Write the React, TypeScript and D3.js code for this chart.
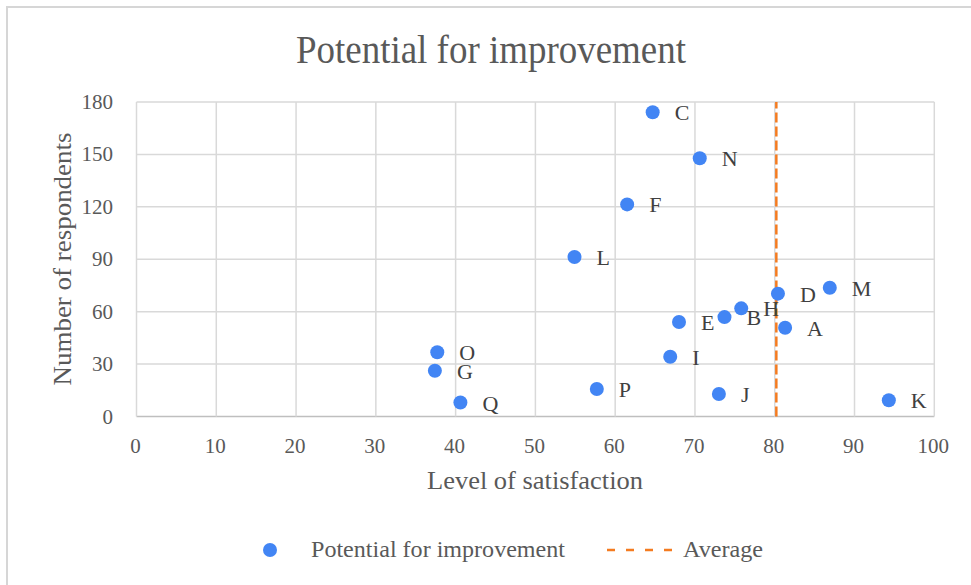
import React from "react";
import * as d3 from "d3";

const labels = ["A", "B", "C", "D", "E", "F", "G", "H", "I", "J", "K", "L", "M", "N", "O", "P", "Q"];
const satisfaction = [81.3, 73.7, 64.7, 80.4, 68.0, 61.5, 37.4, 75.8, 66.9, 73.0, 94.3, 54.9, 86.9, 70.6, 37.7, 57.7, 40.6];
const respondents = [50.8, 56.9, 174.1, 70.3, 54.1, 121.4, 26.2, 61.9, 34.2, 12.9, 9.3, 91.3, 73.7, 147.8, 36.8, 15.7, 8.0];
const averageSatisfaction = [80.2];
const xTicks = [0, 10, 20, 30, 40, 50, 60, 70, 80, 90, 100];
const yTicks = [0, 30, 60, 90, 120, 150, 180];

const W = 971;
const H = 585;
const FONT = "'Liberation Serif', 'Times New Roman', serif";
const TEXT = "#595959";
const BLUE = "#4285F4";
const ORANGE = "#F47B20";
const GRID = "#d9d9d9";

export default function App() {
  const x = d3.scaleLinear().domain([0, 100]).range([136.5, 934.3]);
  const y = d3.scaleLinear().domain([0, 180]).range([416.5, 102]);
  const pts = labels.map((l, i) => ({ l, sx: satisfaction[i], ry: respondents[i] }));
  const [x0, x1] = x.range();
  const [y0, y1] = y.range();
  return (
    <svg
      width={W}
      height={H}
      viewBox={`0 0 ${W} ${H}`}
      style={{ position: "absolute", left: 0, top: 0, display: "block", background: "#fff" }}
      fontFamily={FONT}
    >
      <rect x={0} y={0} width={W} height={H} fill="#fff" />
      <rect x={7} y={7} width={W + 20} height={H + 20} fill="none" stroke="#d6d6d6" strokeWidth={2} />
      <text x={491} y={63} textAnchor="middle" fontSize={40} fill={TEXT} textLength={390} lengthAdjust="spacingAndGlyphs">
        Potential for improvement
      </text>
      {/* grid */}
      {yTicks.map((t) => (
        <line key={"gy" + t} x1={x0} x2={x1} y1={y(t)} y2={y(t)} stroke={t === 0 ? "#bfbfbf" : GRID} strokeWidth={1.5} />
      ))}
      {xTicks.map((t) => (
        <line key={"gx" + t} x1={x(t)} x2={x(t)} y1={y0} y2={y1} stroke={GRID} strokeWidth={1.5} />
      ))}
      {/* ticks */}
      {yTicks.map((t) => (
        <text key={"ty" + t} x={113} y={y(t) + 7} textAnchor="end" fontSize={21} fill={TEXT}>
          {t}
        </text>
      ))}
      {xTicks.map((t) => (
        <text key={"tx" + t} x={x(t) - 1} y={453} textAnchor="middle" fontSize={21} fill={TEXT}>
          {t}
        </text>
      ))}
      <text x={535} y={489} textAnchor="middle" fontSize={25} fill={TEXT} textLength={216} lengthAdjust="spacingAndGlyphs">
        Level of satisfaction
      </text>
      <text
        transform={`translate(71,259) rotate(-90)`}
        textAnchor="middle"
        fontSize={25}
        fill={TEXT}
        textLength={253}
        lengthAdjust="spacingAndGlyphs"
      >
        Number of respondents
      </text>
      {/* average */}
      {averageSatisfaction.map((a, i) => (
        <line key={"avg" + i} x1={x(a)} x2={x(a)} y1={y0} y2={y1} stroke={ORANGE} strokeWidth={2.5} strokeDasharray="10,4" />
      ))}
      {/* points */}
      {pts.map((p) => (
        <circle key={"c" + p.l} cx={x(p.sx)} cy={y(p.ry)} r={7} fill={BLUE} />
      ))}
      {pts.map((p) => (
        <text key={"l" + p.l} x={x(p.sx) + 22} y={y(p.ry) + 8} fontSize={22} fill="#404040">
          {p.l}
        </text>
      ))}
      {/* legend */}
      <circle cx={270} cy={550} r={7} fill={BLUE} />
      <text x={311} y={557} fontSize={24} fill={TEXT} textLength={254} lengthAdjust="spacingAndGlyphs">
        Potential for improvement
      </text>
      <line x1={607} x2={674} y1={550} y2={550} stroke={ORANGE} strokeWidth={2.5} strokeDasharray="8,11" />
      <text x={683} y={557} fontSize={24} fill={TEXT} textLength={80} lengthAdjust="spacingAndGlyphs">
        Average
      </text>
    </svg>
  );
}
